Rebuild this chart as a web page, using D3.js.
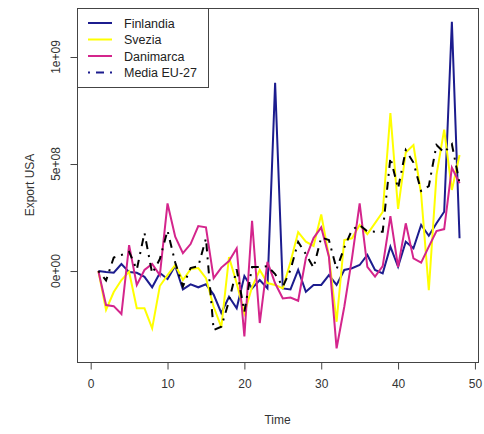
<!DOCTYPE html>
<html>
<head>
<meta charset="utf-8">
<script src="https://cdn.jsdelivr.net/npm/d3@7"></script>
<style>
    body { margin: 0; background: #fff; }
    svg { display: block; font-family: "Liberation Sans", Arial, sans-serif; }
</style>
</head>
<body>
<script>
// values in units of 1e8 (Export USA), time steps 1..48
var time = d3.range(1, 49);
var finlandia = [0, -0.05, -0.08, 0.33, -0.05, -0.08, -0.27, -0.76, -0.09, -0.37,
    0.25, -0.86, -0.62, -0.76, -0.62, -1.1, -1.96, -1.2, -1.74, -0.23,
    -0.81, -0.42, -0.81, 8.8, -0.81, -0.86, 0.05, -0.97, -0.65, -0.65,
    -0.19, -0.65, 0.05, 0.13, 0.28, 0.75, 0.05, -0.11, 1.14, 0.2,
    1.37, 1.06, 2.15, 1.65, 2.23, 2.77, 11.65, 1.53];
var svezia = [0, -1.82, -0.98, -0.42, -0.03, -1.74, -1.74, -2.68, -0.7, -0.19,
    0.28, -0.42, 0.09, 0.14, -0.33, -1.67, -2.62, 0.65, -0.57, -1.98,
    -0.75, 0.05, -0.56, -0.65, -0.81, 0.42, 1.82, 1.37, 1.17, 2.64,
    0.7, -2.37, 1.45, 1.53, 2.15, 1.73, 2.24, 2.76, 7.38, 2.9,
    5.54, 5.89, 3.6, -0.89, 4.49, 6.61, 3.79, 5.42];
var danimarca = [0, -1.59, -1.64, -2.01, 1.21, -0.65, 0.05, 0.33, -0.19, 3.16,
    1.6, 0.84, 1.26, 2.1, 2.04, -0.33, 0.16, 0.47, 1.06, -3.06,
    2.35, -2.43, 0.43, -0.57, -1.28, -1.24, -1.39, 0.61, 1.54, 2.04,
    0.67, -3.61, -1.67, 0.59, 3.16, 0.19, -0.26, 0.23, 2.56, 0.19,
    2.23, 0.59, 0.39, 1.14, 1.87, 1.96, 4.83, 4.1];
var mediaEU = [0, -0.44, 0.63, 0.75, 0.9, 0.07, 1.78, -0.11, 0.56, 1.89,
    0.4, -0.72, 0.14, 0.22, 1.52, -2.76, -2.6, -1.4, 0.08, -1.9,
    0.19, 0.19, 0.23, -0.14, -0.73, 0.05, 1.36, 0.79, 0.16, 1.57,
    1.45, 0.09, 1.1, 1.92, 2.15, 1.85, 1.84, 1.84, 5.3, 3.86,
    5.65, 5.07, 3.74, 3.97, 5.89, 5.54, 5.93, 4.1];
var unit = 1e8;

var xTicks = [0, 10, 20, 30, 40, 50];
var yTicks = [0, 5e8, 1e9];
var yTickLabels = ["0e+00", "5e+08", "1e+09"];

var series = [
    { name: "Finlandia", values: finlandia, color: "#1c1c8e", dash: null },
    { name: "Svezia", values: svezia, color: "#ffff00", dash: null },
    { name: "Danimarca", values: danimarca, color: "#d4258c", dash: null },
    { name: "Media EU-27", values: mediaEU, color: "#000000", dash: "2,6,8,6" }
];

var width = 484,
    height = 434,
    box = { left: 77, right: 478, top: 8, bottom: 362 };

var svg = d3.select('body').append('svg')
    .attr('width', width)
    .attr('height', height);

svg.append('rect')
    .attr('width', width)
    .attr('height', height)
    .attr('fill', '#fff');

var x = d3.scaleLinear().domain([-1.78, 50.4]).range([box.left, box.right]);
var y = d3.scaleLinear().domain([-4.25e8, 1.229e9]).range([box.bottom, box.top]);

var line = d3.line()
    .x(function (d) { return x(d.t); })
    .y(function (d) { return y(d.v); });

svg.append('clipPath').attr('id', 'plotclip')
    .append('rect')
    .attr('x', box.left).attr('y', box.top)
    .attr('width', box.right - box.left).attr('height', box.bottom - box.top);

var plot = svg.append('g').attr('clip-path', 'url(#plotclip)');

series.forEach(function (s) {
    var pts = time.map(function (t, i) { return { t: t, v: s.values[i] * unit }; });
    plot.append('path')
        .datum(pts)
        .attr('d', line)
        .attr('fill', 'none')
        .attr('stroke', s.color)
        .attr('stroke-width', 2)
        .attr('stroke-dasharray', s.dash);
});

// box
svg.append('rect')
    .attr('x', box.left + 0.5)
    .attr('y', box.top + 0.5)
    .attr('width', box.right - box.left)
    .attr('height', box.bottom - box.top)
    .attr('fill', 'none')
    .attr('stroke', '#444')
    .attr('stroke-width', 1);

// x axis
var xAxis = d3.axisBottom(x)
    .tickValues(xTicks)
    .tickSize(7)
    .tickPadding(10)
    .tickFormat(d3.format('d'));

var gx = svg.append('g')
    .attr('transform', 'translate(0,' + (box.bottom + 0.5) + ')')
    .call(xAxis);
gx.select('.domain').remove();
gx.selectAll('.tick line').attr('stroke', '#444');
gx.selectAll('.tick text')
    .attr('fill', '#333')
    .style('font-size', '12px');

// y axis: ticks from the axis, labels rotated like R
var yAxis = d3.axisLeft(y)
    .tickValues(yTicks)
    .tickSize(7)
    .tickFormat('');

var gy = svg.append('g')
    .attr('transform', 'translate(' + (box.left + 0.5) + ',0)')
    .call(yAxis);
gy.select('.domain').remove();
gy.selectAll('.tick line').attr('stroke', '#444');
gy.selectAll('.tick text').remove();

svg.append('g').selectAll('text')
    .data(yTicks)
    .enter().append('text')
    .attr('transform', function (d) { return 'translate(60,' + y(d) + ') rotate(-90)'; })
    .attr('text-anchor', 'middle')
    .attr('fill', '#333')
    .style('font-size', '12px')
    .text(function (d, i) { return yTickLabels[i]; });

// axis titles
svg.append('text')
    .attr('x', (box.left + box.right) / 2)
    .attr('y', 424)
    .attr('text-anchor', 'middle')
    .attr('fill', '#333')
    .style('font-size', '12px')
    .text('Time');

svg.append('text')
    .attr('transform', 'translate(34,' + (box.top + box.bottom) / 2 + ') rotate(-90)')
    .attr('text-anchor', 'middle')
    .attr('fill', '#333')
    .style('font-size', '12px')
    .text('Export USA');

// legend
var legend = svg.append('g');
legend.append('rect')
    .attr('x', box.left + 0.5)
    .attr('y', box.top + 0.5)
    .attr('width', 131)
    .attr('height', 79)
    .attr('fill', '#fff')
    .attr('stroke', '#444');

var legendColors = ["#1c1c8e", "#ffff00", "#d4258c", "#1c1c8e"];
series.forEach(function (s, i) {
    var ly = 23 + i * 16.5;
    legend.append('line')
        .attr('x1', 88).attr('x2', 112)
        .attr('y1', ly).attr('y2', ly)
        .attr('stroke', legendColors[i])
        .attr('stroke-width', 2)
        .attr('stroke-dasharray', s.dash);
    legend.append('text')
        .attr('x', 124)
        .attr('y', ly + 4.5)
        .attr('fill', '#222')
        .style('font-size', '12.5px')
        .text(s.name);
});
</script>
</body>
</html>
